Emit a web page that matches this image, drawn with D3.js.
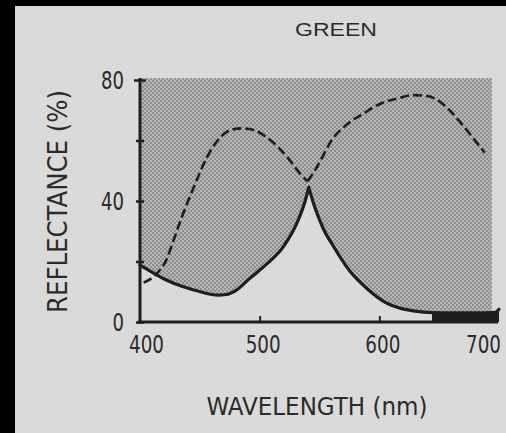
<!DOCTYPE html>
<html><head><meta charset="utf-8">
<script src="https://cdn.jsdelivr.net/npm/d3@7"></script>
<style>html,body{margin:0;padding:0;background:#000;overflow:hidden}</style>
</head><body>
<svg id="c" width="506" height="433"></svg>
<script>
const chartTitle = "GREEN";
const xLabel = "WAVELENGTH (nm)";
const yLabel = "REFLECTANCE (%)";
const xTickValues = [400, 500, 600, 700];
const xTickMarked = [500, 600];
const yTickValues = [0, 20, 40, 60, 80];
const yTickLabelled = [0, 40, 80];

// solid curve (nm, %)
const solidWavelength = [400, 410, 422, 435, 445, 455, 465, 472, 480, 492, 506, 520, 532, 538, 541,
                         546, 553, 562, 575, 591, 605, 618, 630, 644, 660, 680, 697, 700];
const solidReflectance = [18.8, 16.5, 13.9, 11.8, 10.6, 9.5, 8.9, 9.1, 10.4, 14.5, 19.2, 25, 33.5, 40, 44.5,
                          38, 31, 24.8, 17, 10.6, 6.5, 4.5, 3.6, 3.1, 3.0, 3.0, 3.2, 4.2];
const solidPeak = 541;

// dashed curve (nm, %)
const dashedWavelength = [403, 408, 414, 422, 428, 434, 445, 456, 467, 476, 485, 495, 506, 515, 523, 534, 540,
                          546, 553, 560, 572, 587, 600, 616, 628, 640, 650, 660, 666, 676, 688];
const dashedReflectance = [13, 14, 16, 20.5, 27, 33.7, 44.6, 54.5, 61, 63.5, 64, 63.5, 61, 58, 54.5, 49, 46.5,
                           50, 55, 60, 65, 69, 72, 74, 75, 74.7, 73, 69.5, 66.8, 62, 56];
const dashedDip = 540;

const shadeTop = 80.6, shadeRight = 694, blobStart = 640;

const W = 506, H = 433;
const svg = d3.select("#c");
const bg = "#dadada", ink = "#1e1e1e", textCol = "#2b2b2b";
const narrow = "'Liberation Sans Narrow','DejaVu Sans Condensed','Arial Narrow',sans-serif";

svg.append("rect").attr("width", W).attr("height", H).attr("fill", "#000");
svg.append("rect").attr("x", 15).attr("y", 6).attr("width", W - 15).attr("height", H - 6).attr("fill", bg);

const defs = svg.append("defs");
const pat = defs.append("pattern").attr("id", "stip").attr("width", 4).attr("height", 4)
  .attr("patternUnits", "userSpaceOnUse");
pat.append("rect").attr("width", 4).attr("height", 4).attr("fill", "#b8b8b8");
pat.append("rect").attr("x", 0).attr("y", 0).attr("width", 2).attr("height", 2).attr("fill", "#8e8e8e");
pat.append("rect").attr("x", 2).attr("y", 2).attr("width", 2).attr("height", 2).attr("fill", "#8e8e8e");

const x = d3.scaleLinear().domain([400, 700]).range([140, 499]);
const y = d3.scaleLinear().domain([0, 80]).range([322, 80]);

const solid = solidWavelength.map((w, i) => [w, solidReflectance[i]]);
const dashed = dashedWavelength.map((w, i) => [w, dashedReflectance[i]]);
const solidL = solid.filter(d => d[0] <= solidPeak), solidR = solid.filter(d => d[0] >= solidPeak);
const dashL = dashed.filter(d => d[0] <= dashedDip), dashR = dashed.filter(d => d[0] >= dashedDip);

const line = d3.line().x(d => x(d[0])).y(d => y(d[1])).curve(d3.curveMonotoneX);
const solidPath = line(solidL) + line(solidR).replace(/^M/, "L");

// shaded region
svg.append("rect").attr("x", x(400)).attr("y", y(shadeTop))
  .attr("width", x(shadeRight) - x(400)).attr("height", y(0) - y(shadeTop))
  .attr("fill", "url(#stip)");

// clear everything below the solid curve
svg.append("path").attr("d", solidPath + `L${x(700)},${y(0) + 2}L${x(400)},${y(0) + 2}Z`).attr("fill", bg);

// dark blob near axis at the right
const areaBelow = d3.area().x(d => x(d[0])).y0(y(0)).y1(d => y(d[1])).curve(d3.curveMonotoneX);
svg.append("path").attr("d", areaBelow(solid.filter(d => d[0] >= blobStart))).attr("fill", ink);

svg.append("path").attr("d", solidPath).attr("fill", "none").attr("stroke", ink)
  .attr("stroke-width", 3.2).attr("stroke-linecap", "round").attr("stroke-linejoin", "round");
[dashL, dashR].forEach(seg => {
  svg.append("path").attr("d", line(seg)).attr("fill", "none").attr("stroke", ink)
    .attr("stroke-width", 2.6).attr("stroke-dasharray", "9,4");
});

// y axis
const yAxis = svg.append("g").attr("transform", `translate(${x(400)},0)`)
  .call(d3.axisLeft(y).tickValues(yTickValues).tickSizeOuter(0).tickSizeInner(0).tickPadding(16)
    .tickFormat(d => yTickLabelled.includes(d) ? d : ""));
yAxis.select(".domain").attr("stroke", ink).attr("stroke-width", 3).attr("d", `M0,${y(0) + 1}V${y(80) - 2}`);
yAxis.selectAll(".tick line").attr("stroke", ink).attr("stroke-width", 2.5)
  .attr("x1", d => d === 80 ? -6 : -4).attr("x2", d => d === 80 ? 6 : 4);
yAxis.selectAll(".tick text").attr("fill", textCol).attr("font-family", narrow)
  .attr("font-size", 24).attr("dy", "0.34em")
  .attr("textLength", d => String(d).length * 11.5).attr("lengthAdjust", "spacingAndGlyphs");

// x axis
const xAxis = svg.append("g").attr("transform", `translate(0,${y(0)})`)
  .call(d3.axisBottom(x).tickValues(xTickValues).tickSizeOuter(0).tickSizeInner(0));
xAxis.select(".domain").attr("stroke", ink).attr("stroke-width", 3).attr("d", `M${x(400) - 2},0H${x(700) - 1}`);
xAxis.selectAll(".tick line").attr("stroke", ink).attr("stroke-width", 2)
  .attr("y2", d => xTickMarked.includes(d) ? -6 : 0);
xAxis.selectAll(".tick text").attr("fill", textCol).attr("font-family", narrow)
  .attr("font-size", 24).attr("y", 31).attr("dy", 0)
  .attr("dx", d => d === 400 ? 6 : (d === 700 ? -16 : 3))
  .attr("textLength", 35).attr("lengthAdjust", "spacingAndGlyphs");

// titles
svg.append("text").attr("x", 336).attr("y", 36).attr("text-anchor", "middle")
  .attr("font-family", "'Liberation Sans',Arial,sans-serif").attr("font-size", 19).attr("fill", textCol)
  .attr("textLength", 82).attr("lengthAdjust", "spacingAndGlyphs").text(chartTitle);
svg.append("text").attr("x", 317).attr("y", 415).attr("text-anchor", "middle")
  .attr("font-family", narrow).attr("font-size", 25)
  .attr("fill", textCol).attr("textLength", 221).attr("lengthAdjust", "spacingAndGlyphs").text(xLabel);
svg.append("text").attr("transform", "translate(67,201.5) rotate(-90)").attr("text-anchor", "middle")
  .attr("font-family", narrow).attr("font-size", 27)
  .attr("fill", textCol).attr("textLength", 223).attr("lengthAdjust", "spacingAndGlyphs").text(yLabel);
</script>
</body></html>
